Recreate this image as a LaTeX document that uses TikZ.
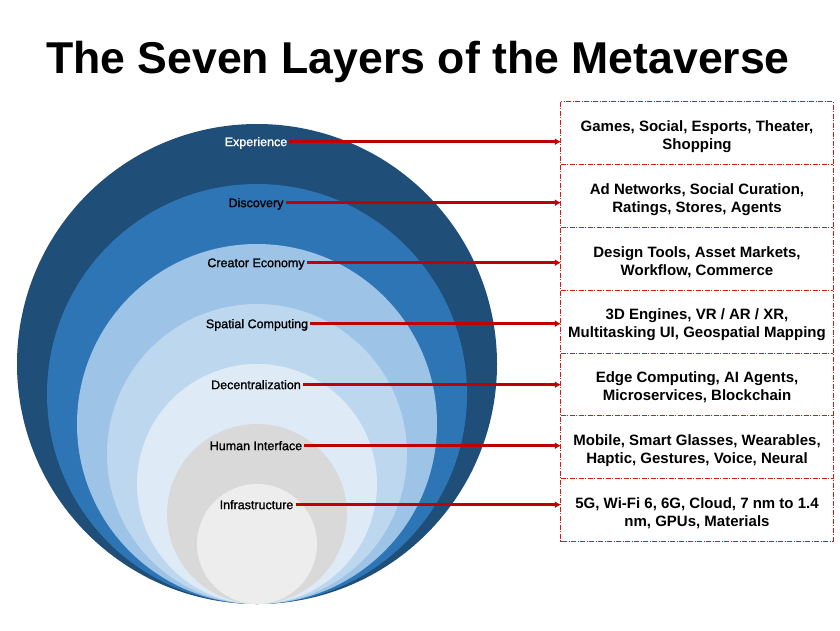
\documentclass[tikz,border=0pt]{standalone}
\usepackage{fontspec}
\setmainfont{Liberation Sans}
\newfontfamily\layerfont[FakeBold=1.2]{Liberation Sans}
\usetikzlibrary{arrows.meta}
\definecolor{ringA}{HTML}{1F4E79}
\definecolor{ringB}{HTML}{2E75B6}
\definecolor{ringC}{HTML}{9DC3E6}
\definecolor{ringD}{HTML}{BDD7EE}
\definecolor{ringE}{HTML}{DEEBF7}
\definecolor{ringF}{HTML}{D9D9D9}
\definecolor{ringG}{HTML}{EDEDED}
\definecolor{darkred}{HTML}{C00000}
\definecolor{boxred}{HTML}{D81818}
\tikzset{
  layerlabel/.style={font=\layerfont\fontsize{12.5}{14}\selectfont, text height=8.9pt, text depth=0pt, inner sep=2pt, anchor=center},
  infobox/.style={minimum width=272pt, minimum height=62.71pt, inner sep=0pt},
  boxtext/.style={align=center, inner sep=0pt, yshift=-3.5pt, font=\bfseries\fontsize{15}{18}\selectfont},
  boxline/.style={draw=boxred, line width=1pt, dash pattern=on 5pt off 1.5pt on 1pt off 1.5pt},
  connector/.style={draw=darkred, line width=3pt, -{Latex[length=6pt,width=7pt]}},
}
\begin{document}
\begin{tikzpicture}[x=1pt,y=-1pt]
\useasboundingbox (0,0) rectangle (840,630);
% title
\node[anchor=base, font=\bfseries\fontsize{44.6}{50}\selectfont, inner sep=0pt] (title) at (418,73) {The Seven Layers of the Metaverse};
% rings (all tangent at bottom y=604, centre x=257)
\foreach \r/\c in {240/ringA,210/ringB,180/ringC,150/ringD,120/ringE,90/ringF,60/ringG}{
  \fill[\c] (257,604-\r) circle[radius=\r];
}
% labels
\node[layerlabel, text=white] (l1) at (256,141.7) {Experience};
\node[layerlabel] (l2) at (256,202.7) {Discovery\hspace{4pt}};
\node[layerlabel] (l3) at (256,262.7) {Creator Economy\hspace{2pt}};
\node[layerlabel] (l4) at (257,323.7) {Spatial Computing};
\node[layerlabel] (l5) at (256,384.7) {Decentralization};
\node[layerlabel] (l6) at (256,445.7) {Human Interface\hspace{3pt}};
\node[layerlabel] (l7) at (256.5,504.7) {Infrastructure};
% boxes
\foreach \i/\y in {1/133.36,2/196.07,3/258.78,4/321.50,5/384.21,6/446.93,7/509.64}{
  \node[infobox] (b\i) at (697,\y) {};
}
\node[boxtext] (t1) at (b1.center) {Games, Social, Esports, Theater,\\Shopping};
\node[boxtext] (t2) at (b2.center) {Ad Networks, Social Curation,\\Ratings, Stores, Agents};
\node[boxtext] (t3) at (b3.center) {Design Tools, Asset Markets,\\Workflow, Commerce};
\node[boxtext] (t4) at (b4.center) {3D Engines, VR / AR / XR,\\Multitasking UI, Geospatial Mapping};
\node[boxtext] (t5) at (b5.center) {Edge Computing, AI Agents,\\Microservices, Blockchain};
\node[boxtext] (t6) at (b6.center) {Mobile, Smart Glasses, Wearables,\\Haptic, Gestures, Voice, Neural};
\node[boxtext] (t7) at (b7.center) {5G, Wi-Fi 6, 6G, Cloud, 7 nm to 1.4\\nm, GPUs, Materials};
% box borders
\draw[boxline] (b1.north west) rectangle (b7.south east);
\foreach \i in {1,...,6}{
  \draw[boxline] (b\i.south west) -- (b\i.south east);
}
% connectors
\foreach \i in {1,...,7}{
  \draw[connector] (l\i.east) -- (l\i.east -| b\i.west);
}
\end{tikzpicture}
\end{document}
